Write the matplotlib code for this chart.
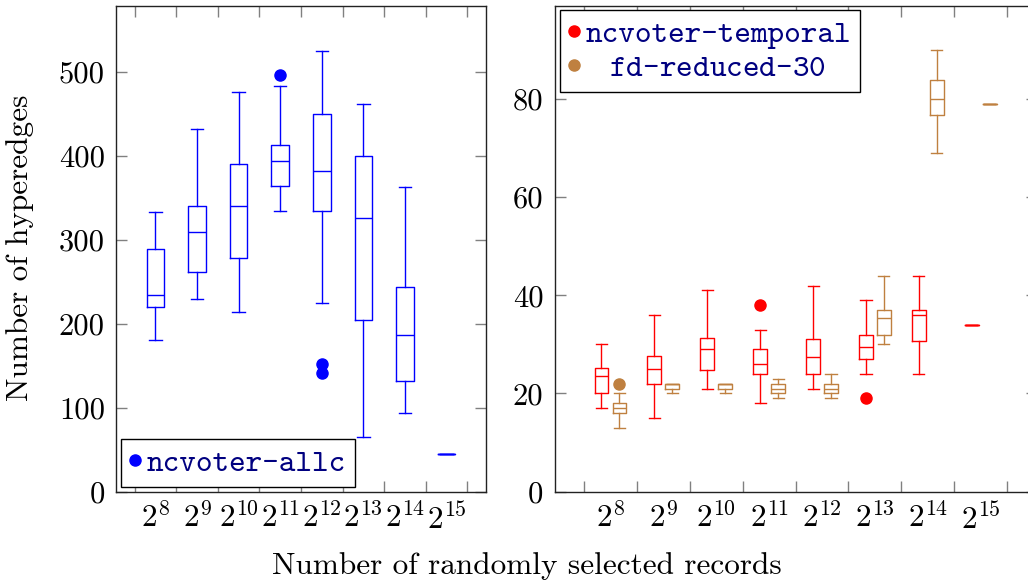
import matplotlib
matplotlib.use("Agg")
import matplotlib.pyplot as plt
from matplotlib.lines import Line2D

plt.rcParams['mathtext.fontset'] = 'cm'
plt.rcParams['axes.unicode_minus'] = False
plt.rcParams['axes.formatter.use_mathtext'] = True

# ---- data ----
sizes = ["$2^{8}$", "$2^{9}$", "$2^{10}$", "$2^{11}$", "$2^{12}$", "$2^{13}$", "$2^{14}$", "$2^{15}$"]

# ncvoter-allc (left panel)
allc_whislo = [180, 229, 214, 334, 225, 65, 93, 45]
allc_q1 = [220, 261, 278, 364, 334, 204, 132, 45]
allc_med = [234, 309, 340, 394, 382, 326, 186, 45]
allc_q3 = [289, 340, 390, 413, 450, 399, 244, 45]
allc_whishi = [333, 431, 476, 483, 525, 461, 362, 45]
allc_fliers = [[], [], [], [496], [152, 141], [], [], []]

# ncvoter-temporal (right panel, red)
temp_whislo = [17, 15, 21, 18, 21, 24, 24, 34]
temp_q1 = [20, 22, 24.7, 24, 24, 27, 30.7, 34]
temp_med = [23.5, 25, 29, 26, 27.4, 29.4, 36, 34]
temp_q3 = [25.2, 27.6, 31.4, 29.1, 31.1, 32, 37, 34]
temp_whishi = [30, 36, 41, 33, 42, 39, 44, 34]
temp_fliers = [[], [], [], [38], [], [19], [], []]

# fd-reduced-30 (right panel, brown)
fd_whislo = [13, 20, 20, 19, 19, 30, 69, 79]
fd_q1 = [16, 21, 21, 20, 20, 32, 76.7, 79]
fd_med = [17, 22, 22, 21, 21, 35.4, 80, 79]
fd_q3 = [18, 22, 22, 22, 22, 37.1, 84, 79]
fd_whishi = [20, 22, 22, 23, 24, 44, 90, 79]
fd_fliers = [[22], [], [], [], [], [], [], []]

BLUE = '#0000ff'
RED = '#ff0000'
BROWN = '#bf8040'
NAVY = '#000080'


def make_stats(lo, q1, med, q3, hi, fl):
    return [dict(whislo=a, q1=b, med=c, q3=d, whishi=e, fliers=f)
            for a, b, c, d, e, f in zip(lo, q1, med, q3, hi, fl)]


def draw(ax, stats, positions, color, width, capwidth):
    lp = dict(color=color, linewidth=1.0)
    ax.bxp(stats, positions=positions, widths=width, capwidths=capwidth,
           showfliers=True, manage_ticks=False,
           boxprops=lp, medianprops=lp, whiskerprops=lp, capprops=lp,
           flierprops=dict(marker='o', markerfacecolor=color,
                           markeredgecolor=color, markersize=8, linestyle='none'))


fig = plt.figure(figsize=(10.28, 5.86), dpi=100)
W, H = 1028, 586
axL = fig.add_axes([116 / W, (H - 491.5) / H, 370 / W, 485.5 / H])
axR = fig.add_axes([554.5 / W, (H - 491.5) / H, 482.2 / W, 485.5 / H])

n = len(sizes)
pos = list(range(1, n + 1))
half = [p - 0.5 for p in pos] + [n + 0.5]

draw(axL, make_stats(allc_whislo, allc_q1, allc_med, allc_q3, allc_whishi, allc_fliers),
     pos, BLUE, 0.42, 0.30)
draw(axR, make_stats(temp_whislo, temp_q1, temp_med, temp_q3, temp_whishi, temp_fliers),
     [p - 0.17 for p in pos], RED, 0.26, 0.21)
draw(axR, make_stats(fd_whislo, fd_q1, fd_med, fd_q3, fd_whishi, fd_fliers),
     [p + 0.17 for p in pos], BROWN, 0.26, 0.21)

axL.set_xlim(0.05, 8.95)
axL.set_ylim(0, 578)
axR.set_xlim(-0.058, 9.058)
axR.set_ylim(0, 99)

tickfont = dict(family='cmr10', size=22)
for ax, yt in ((axL, [0, 100, 200, 300, 400, 500]), (axR, [0, 20, 40, 60, 80])):
    ax.set_xticks(half)
    ax.set_xticklabels([''] * len(half))
    ax.set_xticks(pos, minor=True)
    ax.set_xticklabels(sizes, minor=True, fontsize=22.5)
    ax.set_yticks(yt)
    ax.set_yticklabels([str(v) for v in yt], fontdict=tickfont)
    ax.tick_params(which='major', direction='in', length=8, width=1.0,
                   color='#808080', top=True, right=True, pad=8)
    ax.tick_params(which='minor', length=0, pad=8)
    for s in ax.spines.values():
        s.set_color('#222222')
        s.set_linewidth(1.0)

legprop = dict(family='cmtt10', size=22.8)
hL = [Line2D([], [], marker='o', color=BLUE, linestyle='none', markersize=8)]
legL = axL.legend(hL, ['ncvoter-allc'], loc='lower left',
                  bbox_to_anchor=(0.0135, 0.0087), borderaxespad=0,
                  prop=legprop, labelcolor=NAVY, fancybox=False, framealpha=1,
                  edgecolor='black', borderpad=0.3, handlelength=0.3,
                  handletextpad=0.2)
legL.get_frame().set_linewidth(1.0)

hR = [Line2D([], [], marker='o', color=RED, linestyle='none', markersize=8),
      Line2D([], [], marker='o', color=BROWN, linestyle='none', markersize=8)]
legR = axR.legend(hR, ['ncvoter-temporal', r' $\;$fd-reduced-30'], loc='upper left',
                  bbox_to_anchor=(0.0114, 0.9911), borderaxespad=0,
                  prop=legprop, labelcolor=NAVY, fancybox=False, framealpha=1,
                  edgecolor='black', borderpad=0.3, handlelength=0.3,
                  handletextpad=0.2, labelspacing=0.15)
legR.get_frame().set_linewidth(1.0)

fig.text(20 / W, 1 - 248 / H, 'Number of hyperedges', rotation=90,
         ha='center', va='center', family='cmr10', size=22.5)
fig.text(527 / W, 1 - 574 / H, 'Number of randomly selected records',
         ha='center', va='baseline', family='cmr10', size=22.5)

fig.savefig('out.png', dpi=100)
